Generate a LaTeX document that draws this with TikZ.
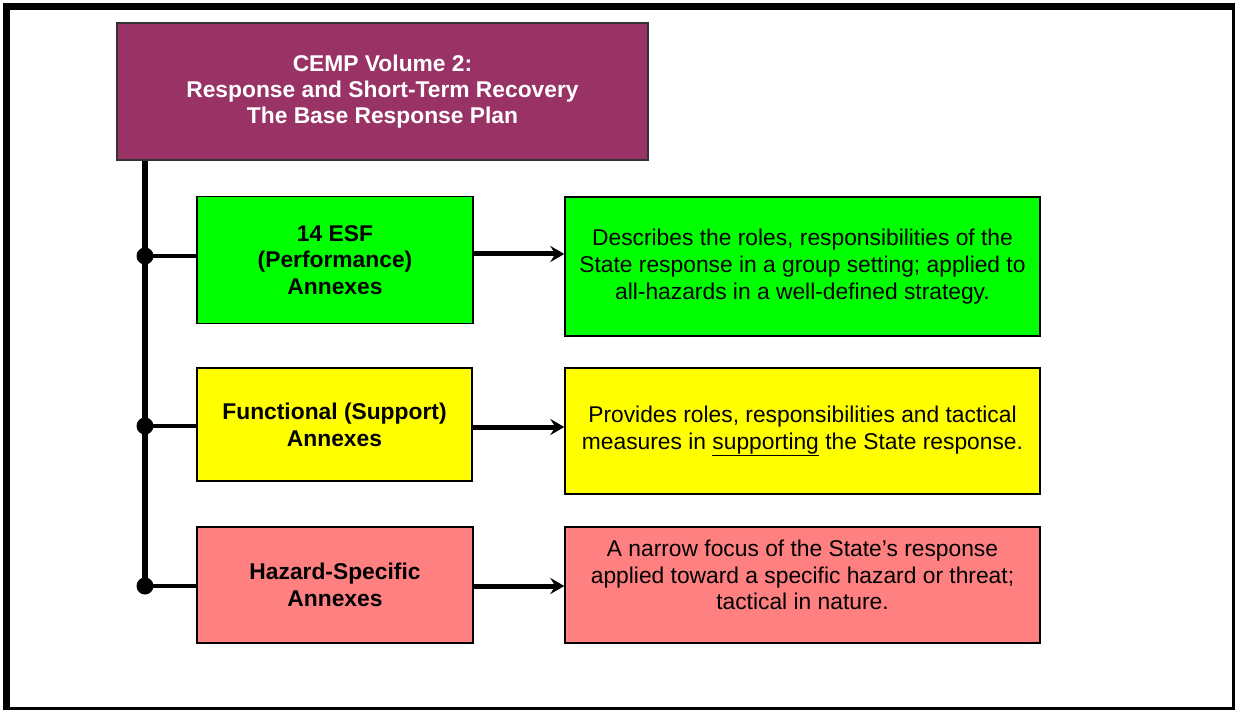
\documentclass[tikz,border=0pt]{standalone}
\usepackage{fontspec}
\setmainfont{Liberation Sans}
\usetikzlibrary{arrows.meta}
\definecolor{plum}{HTML}{993366}
\definecolor{esfgreen}{HTML}{00FF00}
\definecolor{supyellow}{HTML}{FFFF00}
\definecolor{hazpink}{HTML}{FF8080}
\tikzset{
  txt/.style={font=\fontsize{22.8}{26.8}\selectfont, align=center, inner sep=0pt},
  box/.style={draw=black, line width=1.4pt, inner sep=0pt, txt},
  leftbox/.style={box, minimum width=276pt, font=\fontsize{22.8}{26.8}\selectfont\bfseries},
  rightbox/.style={box, minimum width=475pt},
  trunk/.style={line width=5.5pt},
  branch/.style={line width=4.5pt},
  feed/.style={line width=5pt, -{Stealth[length=14pt,width=16pt,inset=5pt]}},
  joint/.style={circle, fill=black, minimum size=17pt, inner sep=0pt}
}
\begin{document}
\begin{tikzpicture}[x=1pt,y=-1pt]
\useasboundingbox (0,0) rectangle (1236,711);
% page frame
\fill[black] (3,3) rectangle (1235,10);
\fill[black] (3,3) rectangle (10,710);
\fill[black] (1232,3) rectangle (1235,710);
\fill[black] (3,707) rectangle (1235,710);

% title block
\node[box, draw=black!80, fill=plum, text=white, font=\fontsize{22.8}{26}\selectfont\bfseries,
      minimum width=531pt, minimum height=137pt] (title) at (382.5,91.5)
  {CEMP Volume 2:\\Response and Short-Term Recovery\\The Base Response Plan};

% annex boxes
\node[leftbox, fill=esfgreen, minimum height=127pt] (esf) at (335,260)
  {14 ESF\\(Performance)\\Annexes};
\node[leftbox, fill=supyellow, minimum height=113pt, minimum width=275pt] (sup) at (334.5,424.5)
  {Functional (Support)\\Annexes};
\node[leftbox, fill=hazpink, minimum height=116pt] (haz) at (335,585)
  {Hazard-Specific\\Annexes};

% description boxes
\node[rightbox, fill=esfgreen, minimum height=139pt] (esfd) at (802.5,266.5)
  {Describes the roles, responsibilities of the\\State response in a group setting; applied to\\all-hazards in a well-defined strategy.};
\node[rightbox, fill=supyellow, minimum height=126pt] (supd) at (802.5,431)
  {Provides roles, responsibilities and tactical\\measures in \underline{supporting} the State response.};
\node[rightbox, fill=hazpink, minimum height=116pt] (hazd) at (802.5,585) {};
\node[txt] (hazdtext) at (802.5,575)
  {A narrow focus of the State’s response\\applied toward a specific hazard or threat;\\tactical in nature.};

% junctions on the trunk line
\node[joint] (j1) at (145,256) {};
\node[joint] (j2) at (145,426) {};
\node[joint] (j3) at (145,586) {};

\draw[trunk] (title.south -| j1) -- (j3.center);
\draw[branch] (j1.center) -- (j1 -| esf.west);
\draw[branch] (j2.center) -- (j2 -| sup.west);
\draw[branch] (j3.center) -- (j3 -| haz.west);

\draw[feed] (esf.east |- 0,254) -- (esfd.west |- 0,254);
\draw[feed] (sup.east |- 0,427) -- (supd.west |- 0,427);
\draw[feed] (haz.east |- 0,586) -- (hazd.west |- 0,586);
\end{tikzpicture}
\end{document}
